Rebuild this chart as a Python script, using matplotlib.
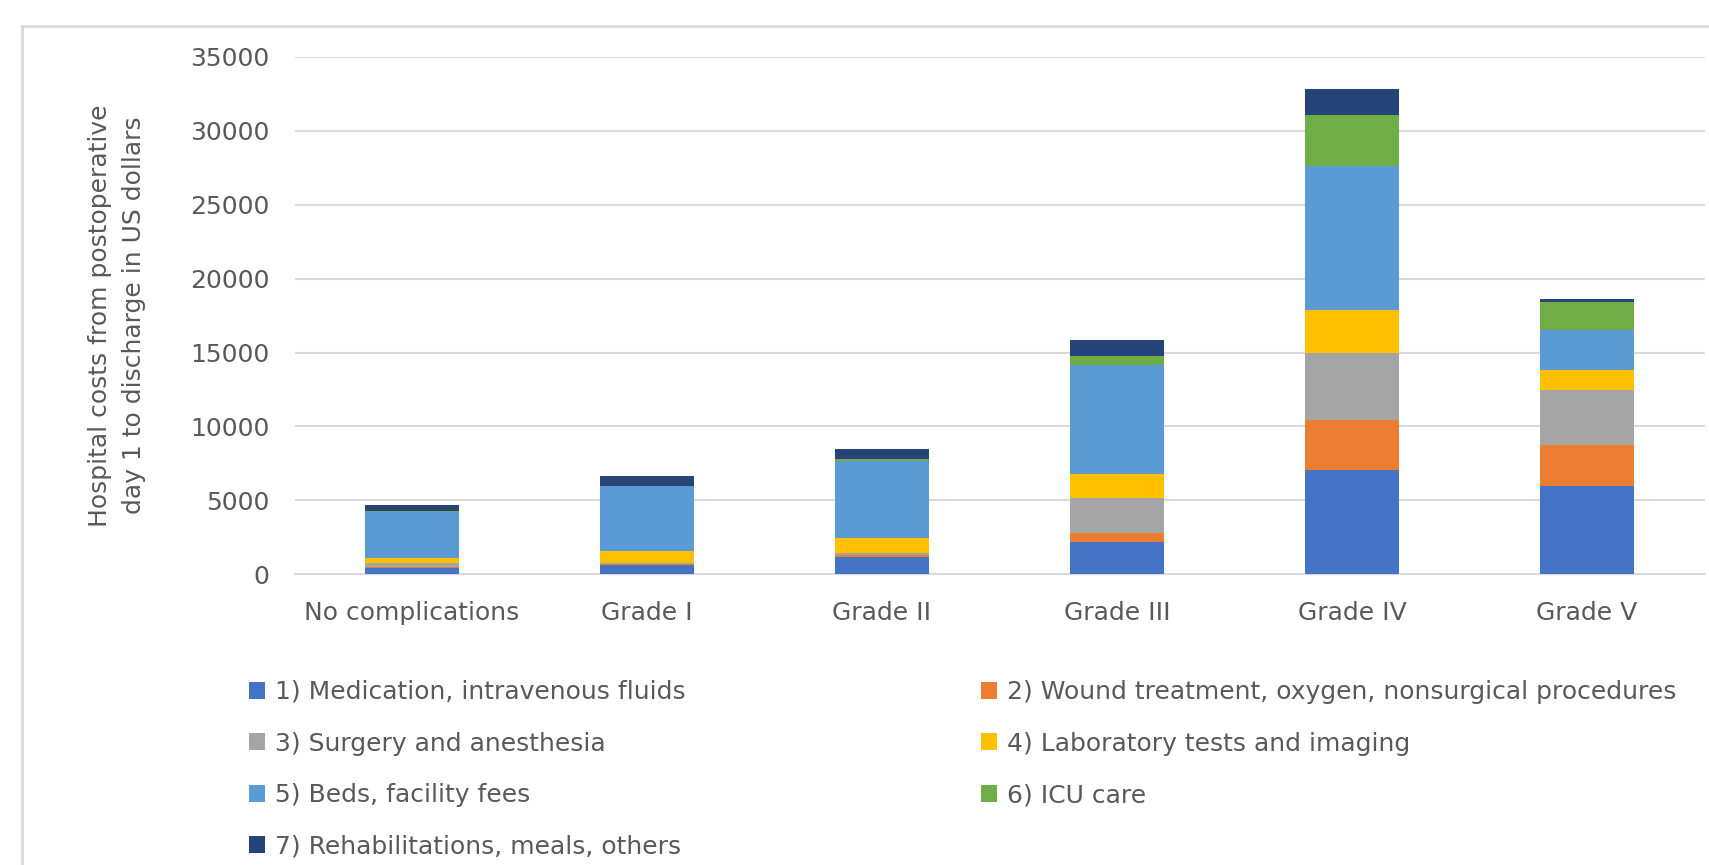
import numpy as np
import matplotlib
matplotlib.use("Agg")
from matplotlib import pyplot as plt
from matplotlib.patches import Patch
from matplotlib.lines import Line2D

# data (US dollars)
categories = ["No complications", "Grade I", "Grade II", "Grade III", "Grade IV", "Grade V"]
medication = [450, 640, 1160, 2210, 7070, 5990]
wound = [80, 50, 120, 610, 3380, 2730]
surgery = [250, 100, 150, 2330, 4520, 3760]
lab = [300, 790, 1010, 1650, 2880, 1310]
beds = [3170, 4400, 5250, 7380, 9750, 2760]
icu = [20, 30, 100, 610, 3460, 1850]
rehab = [430, 650, 680, 1080, 1740, 220]

series_labels = ["1) Medication, intravenous fluids",
                 "2) Wound treatment, oxygen, nonsurgical procedures",
                 "3) Surgery and anesthesia",
                 "4) Laboratory tests and imaging",
                 "5) Beds, facility fees",
                 "6) ICU care",
                 "7) Rehabilitations, meals, others"]
colors = ["#4472C4", "#ED7D31", "#A5A5A5", "#FFC000", "#5B9BD5", "#70AD47", "#264478"]

plt.rcParams['font.family'] = ['DejaVu Sans']
txt_color = "#595959"
fsize = 18

W, H = 1709, 865
fig = plt.figure(figsize=(W / 100, H / 100), dpi=100)

# plot area in pixel terms
left, right, top, bottom = 294.5, 1704.5, 56.7, 574.4
ax = fig.add_axes([left / W, 1 - bottom / H, (right - left) / W, (bottom - top) / H])

x = np.arange(len(categories))
stack = [medication, wound, surgery, lab, beds, icu, rehab]
base = np.zeros(len(categories))
for vals, col, lab_ in zip(stack, colors, series_labels):
    ax.bar(x, vals, width=0.4, bottom=base, color=col, label=lab_, zorder=3)
    base += np.array(vals)

ax.set_xlim(-0.5, len(categories) - 0.5)
ax.set_ylim(0, 35000)
ax.set_yticks(np.arange(0, 35001, 5000))
ax.set_xticks(x)
ax.set_xticklabels(categories)
ax.yaxis.grid(True, color="#D9D9D9", lw=1.5, zorder=0)
for s in ["top", "right", "left"]:
    ax.spines[s].set_visible(False)
ax.spines["bottom"].set_color("#D9D9D9")
ax.spines["bottom"].set_linewidth(1.5)
ax.tick_params(axis="both", length=0, labelcolor=txt_color, labelsize=fsize)
ax.tick_params(axis="x", pad=19)
ax.tick_params(axis="y", pad=18)

fig.text(117 / W, 1 - 315.5 / H,
         "Hospital costs from postoperative\nday 1 to discharge in US dollars",
         rotation=90, ha="center", va="center", color=txt_color, fontsize=fsize,
         multialignment="center", linespacing=1.5)

# legend laid out as two columns, row-wise order as in the reference
handles = [Patch(facecolor=c, edgecolor="none") for c in colors]
leg_kw = dict(loc="upper left", frameon=False, fontsize=fsize, borderpad=0,
              handlelength=0.65, handleheight=0.65, handletextpad=0.4,
              labelspacing=1.1, labelcolor=txt_color, borderaxespad=0)
fig.legend([handles[i] for i in (0, 2, 4, 6)], [series_labels[i] for i in (0, 2, 4, 6)],
           bbox_to_anchor=(249 / W, 1 - 680 / H), **leg_kw)
fig.legend([handles[i] for i in (1, 3, 5)], [series_labels[i] for i in (1, 3, 5)],
           bbox_to_anchor=(981 / W, 1 - 680 / H), **leg_kw)

# chart area frame (cropped at right and bottom)
fig.add_artist(Line2D([22 / W, 22 / W], [0, 1 - 26 / H], color="#D9D9D9", lw=2,
                      transform=fig.transFigure))
fig.add_artist(Line2D([22 / W, 1], [1 - 26 / H, 1 - 26 / H], color="#D9D9D9", lw=2,
                      transform=fig.transFigure))

fig.savefig("out.png", dpi=100)
